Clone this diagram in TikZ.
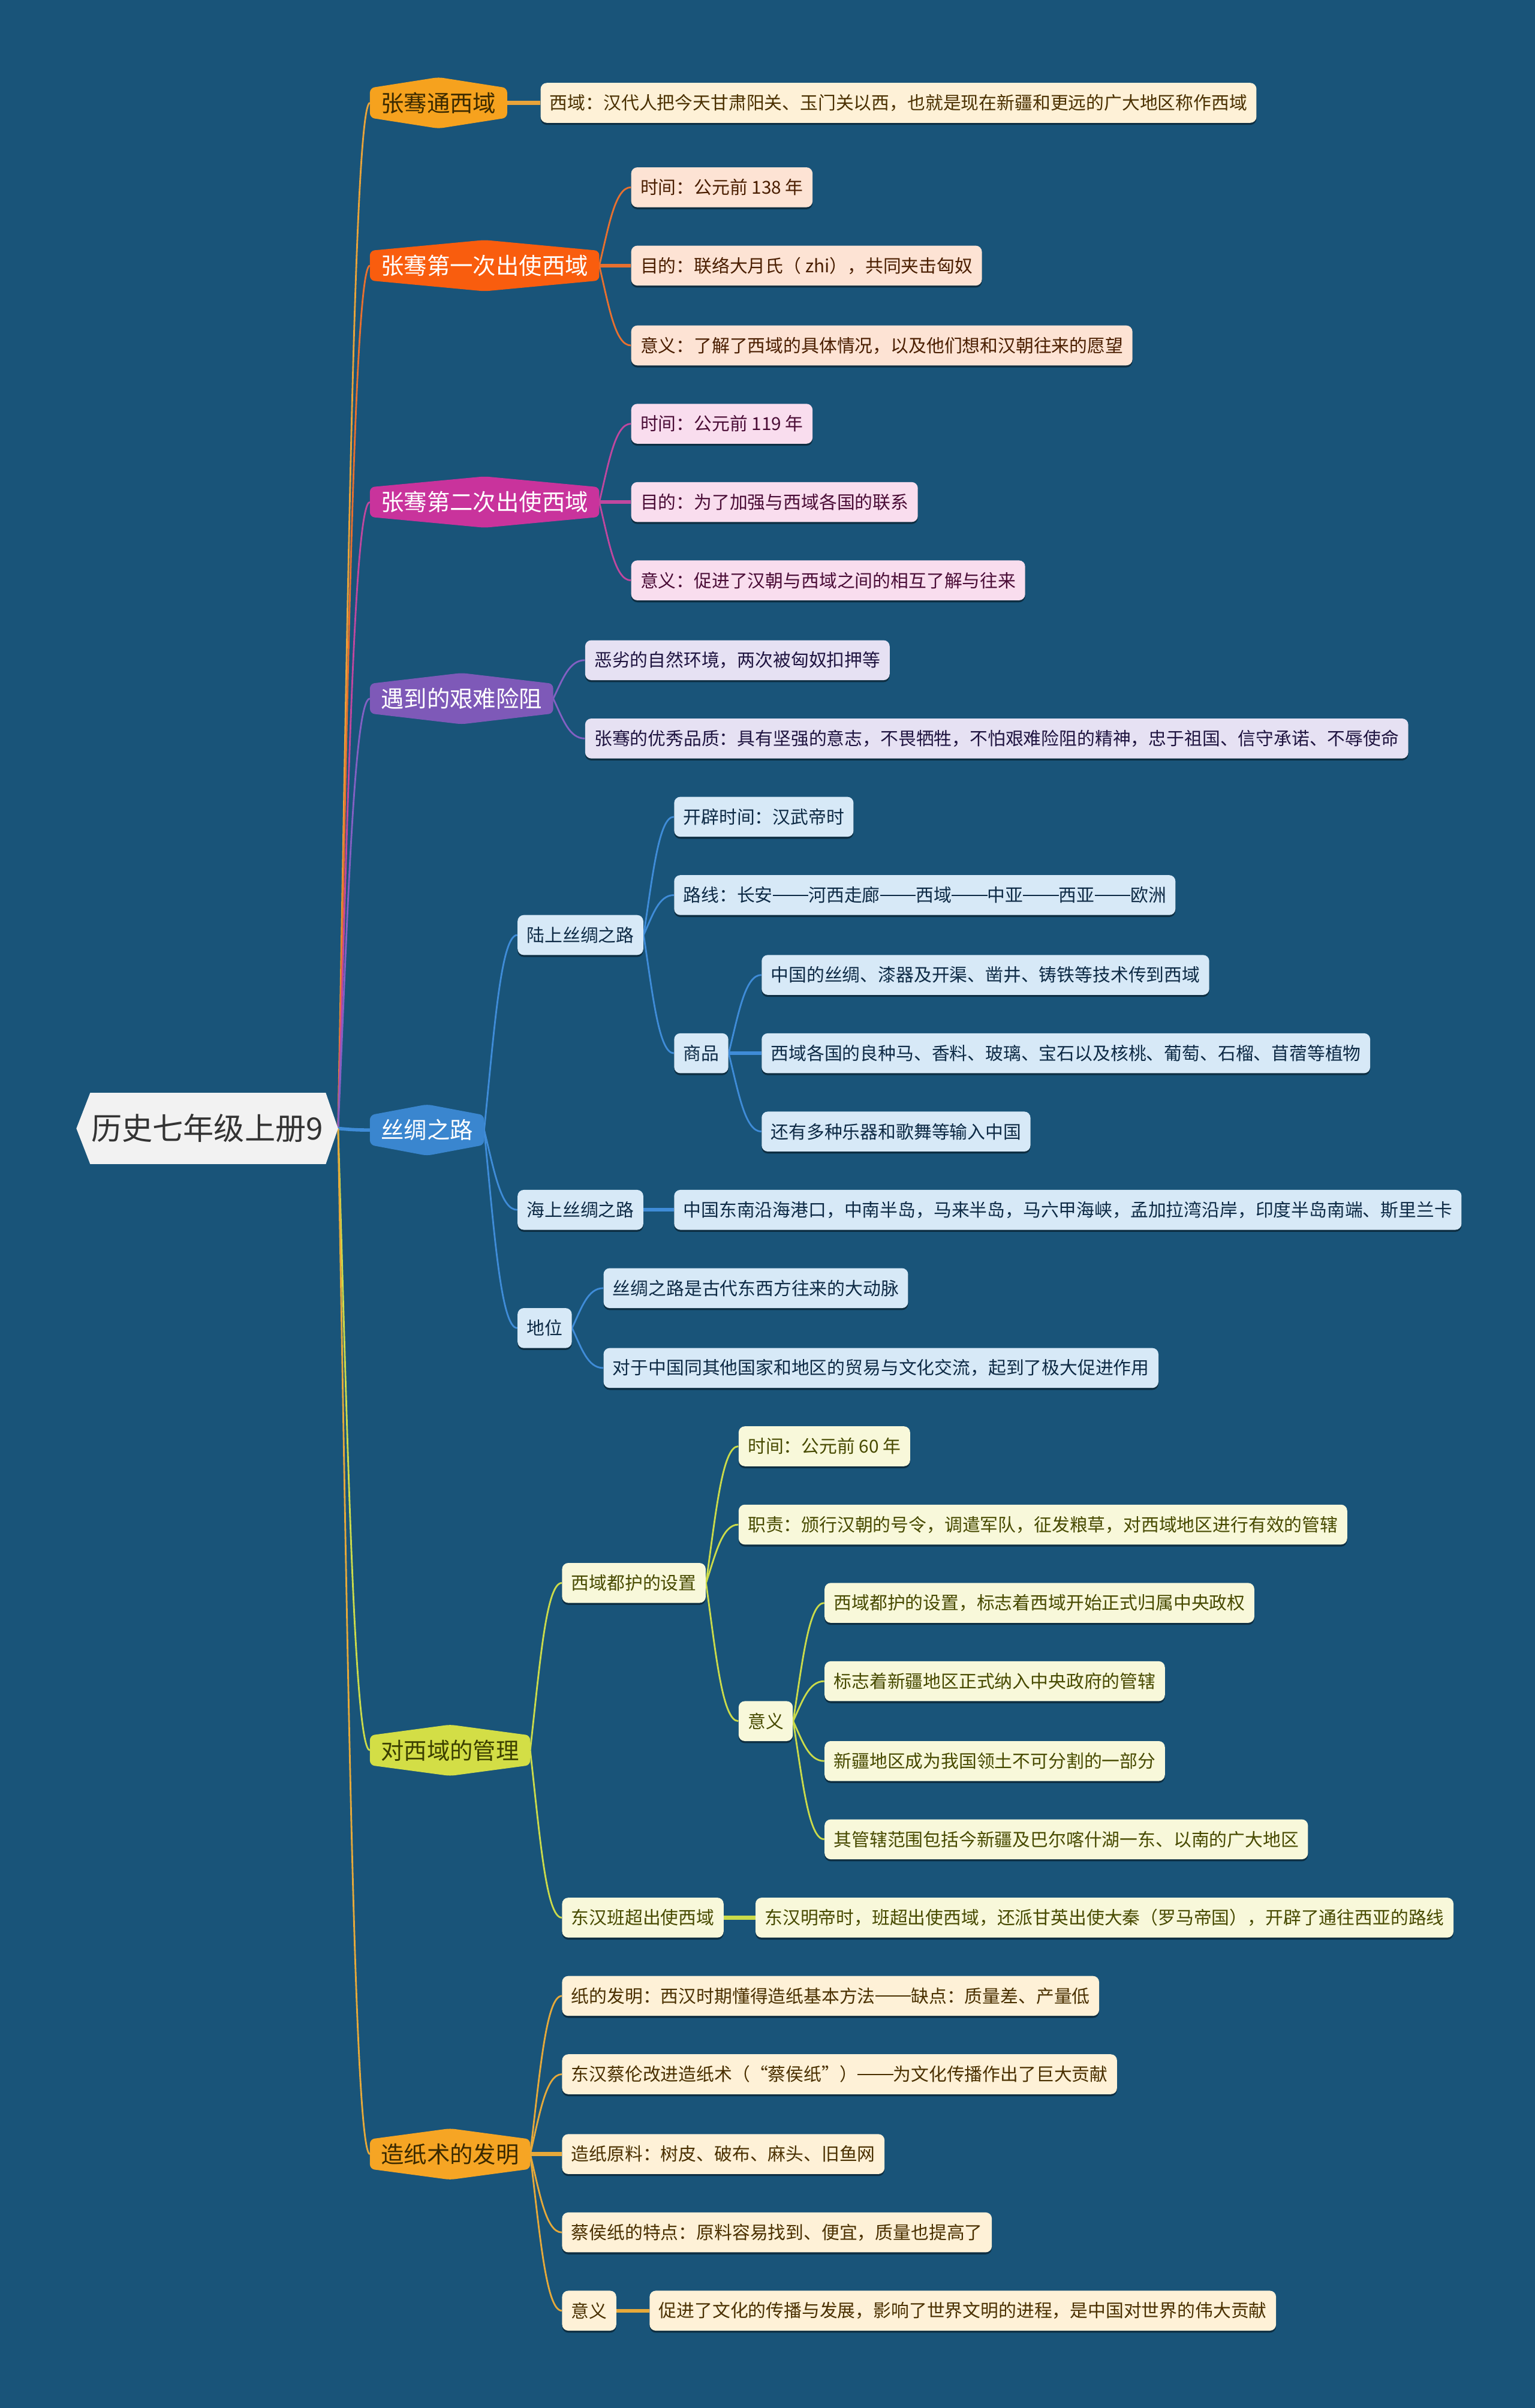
\documentclass[tikz,border=0pt]{standalone}
\usepackage{fontspec}
\setmainfont{Noto Sans CJK SC}
\usetikzlibrary{calc,shadows}
\pgfdeclarelayer{back}\pgfdeclarelayer{bg}\pgfdeclarelayer{mid}\pgfsetlayers{back,bg,mid,main}
\definecolor{bgc}{HTML}{195479}
\definecolor{rootfill}{HTML}{F2F2F2}
\definecolor{roottext}{HTML}{333333}
% branch 1
\definecolor{ta}{HTML}{F6A21E}\definecolor{tat}{HTML}{3B2A00}\definecolor{la}{HTML}{FEF1D7}\definecolor{lat}{HTML}{4A3000}\definecolor{ca}{HTML}{E8A33A}
% branch 2
\definecolor{tb}{HTML}{F95D0E}\definecolor{lb}{HTML}{FDE3D4}\definecolor{lbt}{HTML}{4A1E00}\definecolor{cb}{HTML}{E8702F}
% branch 3
\definecolor{tc}{HTML}{C9339C}\definecolor{lc}{HTML}{F9DDEE}\definecolor{lct}{HTML}{4A0C36}\definecolor{cc}{HTML}{C0479F}
% branch 4
\definecolor{td}{HTML}{7E59B8}\definecolor{ld}{HTML}{E6E1F3}\definecolor{ldt}{HTML}{1F1440}\definecolor{cd}{HTML}{8360C3}
% branch 5
\definecolor{te}{HTML}{3A86CF}\definecolor{le}{HTML}{D7E9F7}\definecolor{let}{HTML}{0D2A45}\definecolor{ce}{HTML}{3F8CD8}
% branch 6
\definecolor{tf}{HTML}{D3DE46}\definecolor{tft}{HTML}{3B3F00}\definecolor{lf}{HTML}{F8F8DA}\definecolor{lft}{HTML}{474A00}\definecolor{cf}{HTML}{CBDB4A}
% branch 7
\definecolor{tg}{HTML}{F6A524}\definecolor{tgt}{HTML}{3B2A00}\definecolor{lg}{HTML}{FEF1D7}\definecolor{lgt}{HTML}{4A3000}\definecolor{cg}{HTML}{E6A93A}

\newcommand\fw[1]{{\addfontfeature{RawFeature=+fwid}#1}}
\newcommand\dd{\rule[0.34em]{2em}{0.07em}}

\tikzset{
  rootn/.style={minimum height=46pt, inner xsep=9.5pt, inner ysep=0pt, text=roottext, font=\fontsize{20}{22}\selectfont},
  topic/.style={minimum height=33pt, inner xsep=7pt, inner ysep=0pt, anchor=west, font=\fontsize{15}{16}\selectfont},
  leaf/.style={rounded corners=4pt, minimum height=26pt, inner xsep=6pt, inner ysep=0pt, anchor=west,
    font=\fontsize{11.65}{12}\selectfont,
    drop shadow={shadow xshift=0pt, shadow yshift=-1.3pt, opacity=0.45, fill=black}},
  leafA/.style={leaf, fill=la, text=lat},
  leafB/.style={leaf, fill=lb, text=lbt},
  leafC/.style={leaf, fill=lc, text=lct},
  leafD/.style={leaf, fill=ld, text=ldt},
  leafE/.style={leaf, fill=le, text=let},
  leafF/.style={leaf, fill=lf, text=lft},
  leafG/.style={leaf, fill=lg, text=lgt},
}
\newcommand\myconn[4][1.1pt]{\begin{pgfonlayer}{bg}\draw[#4, line width=#1] let \p1=(#2.east), \p2=(#3.west) in (\p1) .. controls ({\x1+0.3*(\x2-\x1)},{\y1+0.5*(\y2-\y1)}) and ({\x1+0.5*(\x2-\x1)},\y2) .. (\p2);\end{pgfonlayer}}
\newcommand\mystraight[3]{\begin{pgfonlayer}{bg}\draw[#3, line width=2.5pt] (#1.east) -- (#2.west);\end{pgfonlayer}}
\newcommand\myhex[2]{\begin{pgfonlayer}{mid}\fill[#2, rounded corners=3pt] ([yshift=-7pt]#1.north west) -- (#1.north) -- ([yshift=-7pt]#1.north east) -- ([yshift=7pt]#1.south east) -- (#1.south) -- ([yshift=7pt]#1.south west) -- cycle;\end{pgfonlayer}}

\begin{document}
\begin{tikzpicture}[x=1pt,y=-1pt]
\begin{pgfonlayer}{back}
\fill[bgc] (0,0) rectangle (1000,1568.4);
\end{pgfonlayer}
\useasboundingbox (0,0) rectangle (1000,1568.4);

% root
\node[rootn] (root) at (135,735) {历史七年级上册9};
\begin{pgfonlayer}{mid}
\fill[rootfill] (root.west) -- ([xshift=9pt]root.north west) -- ([xshift=-8pt]root.north east) -- (root.east) -- ([xshift=-8pt]root.south east) -- ([xshift=9pt]root.south west) -- cycle;
\end{pgfonlayer}

% topics
\node[topic, text=tat] (t1) at (241,67) {张骞通西域};
\node[topic, text=white] (t2) at (241,173) {张骞第一次出使西域};
\node[topic, text=white] (t3) at (241,327) {张骞第二次出使西域};
\node[topic, text=white] (t4) at (241,455) {遇到的艰难险阻};
\node[topic, text=white] (t5) at (241,736) {丝绸之路};
\node[topic, text=tft] (t6) at (241,1140) {对西域的管理};
\node[topic, text=tgt] (t7) at (241,1403) {造纸术的发明};
\myhex{t1}{ta}\myhex{t2}{tb}\myhex{t3}{tc}\myhex{t4}{td}\myhex{t5}{te}\myhex{t6}{tf}\myhex{t7}{tg}

% branch 1
\node[leafA] (l1) at (352,67) {西域：汉代人把今天甘肃阳关、玉门关以西，也就是现在新疆和更远的广大地区称作西域};
% branch 2
\node[leafB] (a1) at (411,122) {时间：公元前 138 年};
\node[leafB] (a2) at (411,173) {目的：联络大月氏（ zhi），共同夹击匈奴};
\node[leafB] (a3) at (411,225) {意义：了解了西域的具体情况，以及他们想和汉朝往来的愿望};
% branch 3
\node[leafC] (b1) at (411,276) {时间：公元前 119 年};
\node[leafC] (b2) at (411,327) {目的：为了加强与西域各国的联系};
\node[leafC] (b3) at (411,378) {意义：促进了汉朝与西域之间的相互了解与往来};
% branch 4
\node[leafD] (d1) at (381,430) {恶劣的自然环境，两次被匈奴扣押等};
\node[leafD] (d2) at (381,481) {张骞的优秀品质：具有坚强的意志，不畏牺牲，不怕艰难险阻的精神，忠于祖国、信守承诺、不辱使命};
% branch 5
\node[leafE] (s1) at (337,609) {陆上丝绸之路};
\node[leafE] (s11) at (439,532) {开辟时间：汉武帝时};
\node[leafE] (s12) at (439,583) {路线：长安\dd 河西走廊\dd 西域\dd 中亚\dd 西亚\dd 欧洲};
\node[leafE] (s13) at (439,686) {商品};
\node[leafE] (s131) at (496,635) {中国的丝绸、漆器及开渠、凿井、铸铁等技术传到西域};
\node[leafE] (s132) at (496,686) {西域各国的良种马、香料、玻璃、宝石以及核桃、葡萄、石榴、苜蓿等植物};
\node[leafE] (s133) at (496,737) {还有多种乐器和歌舞等输入中国};
\node[leafE] (s2) at (337,788) {海上丝绸之路};
\node[leafE] (s21) at (439,788) {中国东南沿海港口，中南半岛，马来半岛，马六甲海峡，孟加拉湾沿岸，印度半岛南端、斯里兰卡};
\node[leafE] (s3) at (337,865) {地位};
\node[leafE] (s31) at (393,839) {丝绸之路是古代东西方往来的大动脉};
\node[leafE] (s32) at (393,891) {对于中国同其他国家和地区的贸易与文化交流，起到了极大促进作用};
% branch 6
\node[leafF] (m1) at (366,1031) {西域都护的设置};
\node[leafF] (m11) at (481,942) {时间：公元前 60 年};
\node[leafF] (m12) at (481,993) {职责：颁行汉朝的号令，调遣军队，征发粮草，对西域地区进行有效的管辖};
\node[leafF] (m13) at (481,1121) {意义};
\node[leafF] (m131) at (537,1044) {西域都护的设置，标志着西域开始正式归属中央政权};
\node[leafF] (m132) at (537,1095) {标志着新疆地区正式纳入中央政府的管辖};
\node[leafF] (m133) at (537,1147) {新疆地区成为我国领土不可分割的一部分};
\node[leafF] (m134) at (537,1198) {其管辖范围包括今新疆及巴尔喀什湖一东、以南的广大地区};
\node[leafF] (m2) at (366,1249) {东汉班超出使西域};
\node[leafF] (m21) at (492,1249) {东汉明帝时，班超出使西域，还派甘英出使大秦（罗马帝国），开辟了通往西亚的路线};
% branch 7
\node[leafG] (p1) at (366,1300) {纸的发明：西汉时期懂得造纸基本方法\dd 缺点：质量差、产量低};
\node[leafG] (p2) at (366,1351) {东汉蔡伦改进造纸术（\fw{“}蔡侯纸\fw{”}）\dd 为文化传播作出了巨大贡献};
\node[leafG] (p3) at (366,1403) {造纸原料：树皮、破布、麻头、旧鱼网};
\node[leafG] (p4) at (366,1454) {蔡侯纸的特点：原料容易找到、便宜，质量也提高了};
\node[leafG] (p5) at (366,1505) {意义};
\node[leafG] (p51) at (423,1505) {促进了文化的传播与发展，影响了世界文明的进程，是中国对世界的伟大贡献};

% connectors root
\myconn{root}{t1}{ca}
\myconn{root}{t2}{cb}
\myconn{root}{t3}{cc}
\myconn{root}{t4}{cd}
\myconn[2.2pt]{root}{t5}{ce}
\myconn{root}{t6}{cf}
\myconn{root}{t7}{cg}
% branch 1
\mystraight{t1}{l1}{ca}
% branch 2
\myconn{t2}{a1}{cb}\mystraight{t2}{a2}{cb}\myconn{t2}{a3}{cb}
% branch 3
\myconn{t3}{b1}{cc}\mystraight{t3}{b2}{cc}\myconn{t3}{b3}{cc}
% branch 4
\myconn{t4}{d1}{cd}\myconn{t4}{d2}{cd}
% branch 5
\myconn{t5}{s1}{ce}\myconn{t5}{s2}{ce}\myconn{t5}{s3}{ce}
\myconn{s1}{s11}{ce}\myconn{s1}{s12}{ce}\myconn{s1}{s13}{ce}
\myconn{s13}{s131}{ce}\mystraight{s13}{s132}{ce}\myconn{s13}{s133}{ce}
\mystraight{s2}{s21}{ce}
\myconn{s3}{s31}{ce}\myconn{s3}{s32}{ce}
% branch 6
\myconn{t6}{m1}{cf}\myconn{t6}{m2}{cf}
\myconn{m1}{m11}{cf}\myconn{m1}{m12}{cf}\myconn{m1}{m13}{cf}
\myconn{m13}{m131}{cf}\myconn{m13}{m132}{cf}\myconn{m13}{m133}{cf}\myconn{m13}{m134}{cf}
\mystraight{m2}{m21}{cf}
% branch 7
\myconn{t7}{p1}{cg}\myconn{t7}{p2}{cg}\mystraight{t7}{p3}{cg}\myconn{t7}{p4}{cg}\myconn{t7}{p5}{cg}
\mystraight{p5}{p51}{cg}
\end{tikzpicture}
\end{document}
